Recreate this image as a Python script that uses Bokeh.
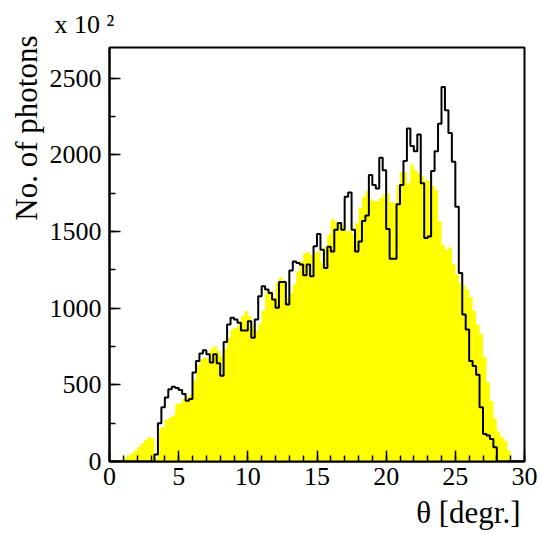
import numpy as np
from bokeh.plotting import figure
from bokeh.models import FixedTicker, Title
from bokeh.embed import file_html
from bokeh.resources import INLINE

# ---- data (counts in units of 10^2 photons, bins of 0.25 degree from 0 to 30) ----
bin_width = 0.25
n_bins = 120

yellow_counts = [
    0, 0, 0, 0, 24, 39, 54, 71, 97, 119, 140, 158, 150, 20,
    215, 225, 270, 285, 300, 375, 380, 407, 420, 435,
    526, 623, 660, 675, 677, 733, 753, 720, 690, 733,
    807, 861, 872, 894, 948, 980, 950, 880, 851, 900,
    985, 1100, 1110, 1067, 1164, 1201, 1180, 1071, 1099, 1154,
    1240, 1305, 1359, 1365, 1348, 1360, 1370, 1300, 1400, 1478,
    1582, 1565, 1560, 1540, 1505, 1505, 1478, 1554, 1655, 1727,
    1764, 1710, 1699, 1699, 1720, 1745, 1749, 1690, 1684, 1803,
    1890, 1885, 1814, 1937, 1900, 1879, 1860, 1829, 1829, 1800,
    1771, 1565, 1413, 1381, 1396, 1288, 1220, 1164, 1150, 1121,
    1071, 981, 894, 833, 680, 515, 396, 280, 195, 160,
    136, 71, 0, 0, 0, 0,
]

black_counts = [
    0, 0, 0, 0, 0, 0, 0, 0, 0, 0, 0, 0, 0, 45,
    249, 353, 417, 472, 487, 479, 466, 440, 396, 407,
    580, 656, 705, 725, 700, 645, 699, 640, 560, 780,
    894, 937, 926, 905, 855, 855, 915, 807, 926, 1078,
    1143, 1121, 1099, 1056, 1002, 1171, 1171, 1024, 1245, 1305,
    1294, 1284, 1215, 1284, 1208, 1403, 1483, 1381, 1262, 1400,
    1370, 1511, 1556, 1511, 1727, 1755, 1511, 1370, 1435, 1569,
    1604, 1868, 1803, 1781, 1981, 1900, 1517, 1323, 1323, 1677,
    1803, 1959, 2171, 2058, 2024, 2132, 1814, 1457, 1468, 1894,
    2024, 2203, 2442, 2290, 2143, 1955, 1662, 1229, 959, 861,
    656, 623, 565, 353, 180, 169, 147, 93, 0, 0,
    0, 0, 0, 0, 0, 0,
]

x_major_ticks = [0, 5, 10, 15, 20, 25, 30]
x_minor_ticks = list(range(0, 31))
y_major_ticks = [0, 500, 1000, 1500, 2000, 2500]
y_minor_ticks = list(range(0, 2701, 250))

edges = np.arange(n_bins + 1) * bin_width
yellow_y = list(yellow_counts) + [0]
black_y = list(black_counts) + [0]

FONT = "Liberation Serif"

W, H = 541, 535
FL, FT, FR, FB = 109, 44, 524, 462   # frame edges in canvas pixels

p = figure(width=W, height=H, x_range=(0, 30), y_range=(0, 2700),
           output_backend="svg", toolbar_location=None,
           min_border_left=FL, min_border_top=FT,
           min_border_right=W - FR, min_border_bottom=H - FB)

p.varea_step(x=edges, y1=np.zeros(len(edges)), y2=yellow_y,
             step_mode="after", fill_color="#ffff00")
p.step(x=edges, y=black_y, mode="after", line_color="black", line_width=2)

p.grid.visible = False
p.outline_line_color = "black"
p.outline_line_width = 2
p.background_fill_color = "white"
p.border_fill_color = "white"

p.xaxis.ticker = FixedTicker(ticks=x_major_ticks, minor_ticks=x_minor_ticks)
p.yaxis.ticker = FixedTicker(ticks=y_major_ticks, minor_ticks=y_minor_ticks)

for ax in (p.xaxis[0], p.yaxis[0]):
    ax.axis_line_color = "black"
    ax.axis_line_width = 2
    ax.major_tick_in = 11
    ax.major_tick_out = 0
    ax.minor_tick_in = 6
    ax.minor_tick_out = 0
    ax.major_tick_line_width = 1.5
    ax.minor_tick_line_width = 1.5
    ax.major_label_text_font = FONT
    ax.major_label_text_font_size = "26px"
    ax.major_label_text_color = "black"

p.xaxis.major_label_standoff = 6
p.yaxis.major_label_standoff = 8

# "x 10^2" multiplier, top-left
p.title.text = "x 10 \u00b2"
p.title.align = "left"
p.title.offset = -55
p.title.text_font = FONT
p.title.text_font_style = "normal"
p.title.text_font_size = "26px"
p.title.text_color = "black"
p.title.vertical_align = "middle"
p.title.standoff = 16

# y-axis title, right-aligned towards the top
p.add_layout(Title(text="No. of photons", align="right", offset=-12,
                   text_font=FONT, text_font_style="normal",
                   text_font_size="31px", text_color="black", standoff=6),
             "left")
# x-axis title, right-aligned
p.add_layout(Title(text="θ [degr.]", align="right", offset=4,
                   text_font=FONT, text_font_style="normal",
                   text_font_size="31px", text_color="black", standoff=11),
             "below")

open("out.html", "w").write(file_html(p, INLINE))
